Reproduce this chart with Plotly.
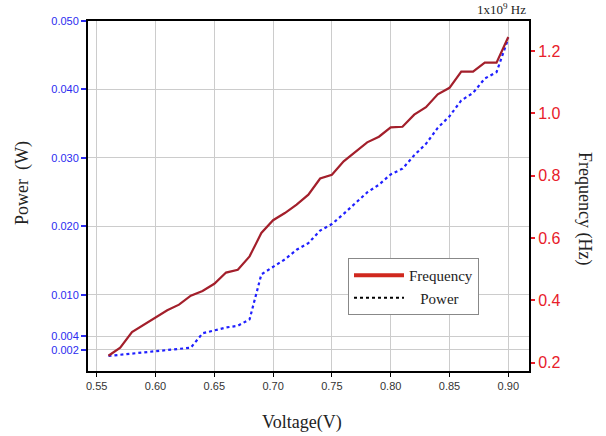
import plotly.graph_objects as go

voltage = [0.56, 0.57, 0.58, 0.59, 0.60, 0.61, 0.62, 0.63, 0.64, 0.65, 0.66, 0.67,
           0.68, 0.69, 0.70, 0.71, 0.72, 0.73, 0.74, 0.75, 0.76, 0.77, 0.78, 0.79,
           0.80, 0.81, 0.82, 0.83, 0.84, 0.85, 0.86, 0.87, 0.88, 0.89, 0.90]
frequency = [0.222, 0.248, 0.298, 0.321, 0.345, 0.368, 0.386, 0.415, 0.430, 0.453, 0.489, 0.498,
             0.541, 0.616, 0.657, 0.680, 0.707, 0.739, 0.791, 0.803, 0.846, 0.878, 0.907, 0.925,
             0.955, 0.957, 0.996, 1.020, 1.061, 1.082, 1.134, 1.134, 1.163, 1.163, 1.245]
power = [0.0011, 0.00126, 0.0014, 0.0016, 0.0018, 0.00195, 0.00214, 0.0023, 0.0044, 0.00488, 0.00525, 0.00551,
         0.00644, 0.0130, 0.01414, 0.0152, 0.0166, 0.01757, 0.0194, 0.02035, 0.02185, 0.0234, 0.02497, 0.0261,
         0.0276, 0.02844, 0.0304, 0.03206, 0.0344, 0.0361, 0.0384, 0.0395, 0.0416, 0.04253, 0.04746]

power_ticks = [0.002, 0.004, 0.010, 0.020, 0.030, 0.040, 0.050]
power_tick_text = ["0.002", "0.004", "0.010", "0.020", "0.030", "0.040", "0.050"]
freq_ticks = [0.2, 0.4, 0.6, 0.8, 1.0, 1.2]
freq_tick_text = ["0.2", "0.4", "0.6", "0.8", "1.0", "1.2"]
volt_ticks = [0.55, 0.60, 0.65, 0.70, 0.75, 0.80, 0.85, 0.90]
volt_tick_text = ["0.55", "0.60", "0.65", "0.70", "0.75", "0.80", "0.85", "0.90"]

SERIF = "Liberation Serif"
SANS = "Liberation Sans"
BLUE = "#2b2bf0"
RED = "#e8202a"

W, H = 606, 436
L, R, T, B = 88, 77, 21, 65
pw, ph = W - L - R, H - T - B


def px(x, y):
    return (x - L) / pw, 1 - (y - T) / ph


fig = go.Figure()
fig.add_trace(go.Scatter(x=voltage, y=power, mode="lines", yaxis="y",
                         line=dict(color="#2020ff", width=2.2, dash="dot"), showlegend=False))
fig.add_trace(go.Scatter(x=voltage, y=frequency, mode="lines", yaxis="y2",
                         line=dict(color="#a31f2b", width=2.2), showlegend=False))
# legend entries
fig.add_trace(go.Scatter(x=[None], y=[None], mode="lines", name="Frequency", yaxis="y2",
                         line=dict(color="#d0281e", width=4)))
fig.add_trace(go.Scatter(x=[None], y=[None], mode="lines", name="&nbsp;&nbsp;&nbsp;Power", yaxis="y2",
                         line=dict(color="black", width=2, dash="dot")))

annotations = []
for text, x, y, ang, size, xanchor in [
    ("Voltage(V)", 302, 422, 0, 18, "center"),
    ("Power  (W)", 22, 183, -90, 18, "center"),
    ("Frequency (Hz)", 585, 208, 90, 18, "center"),
    ("1x10<sup>9</sup> Hz", 528, 9, 0, 13, "right"),
]:
    ax, ay = px(x, y)
    annotations.append(dict(text=text, x=ax, y=ay, xref="paper", yref="paper",
                            showarrow=False, textangle=ang, xanchor=xanchor, yanchor="middle",
                            font=dict(family=SERIF, size=size, color="#222222")))

lx, ly = px(348, 258)

fig.update_layout(
    width=W, height=H,
    margin=dict(l=L, r=R, t=T, b=B),
    paper_bgcolor="white", plot_bgcolor="white",
    showlegend=True,
    legend=dict(x=lx, y=ly, xanchor="left", yanchor="top",
                bordercolor="#888888", borderwidth=1, bgcolor="white",
                font=dict(family=SERIF, size=15, color="#222222"),
                tracegroupgap=4, itemwidth=50),
    xaxis=dict(range=[0.5426, 0.9176], tickvals=volt_ticks, ticktext=volt_tick_text,
               showgrid=True, gridcolor="#cccccc", gridwidth=1,
               showline=True, linecolor="black", linewidth=2, mirror=True,
               ticks="outside", ticklen=4, tickcolor="black", zeroline=False,
               tickfont=dict(family=SANS, size=11, color="#333333")),
    yaxis=dict(range=[-0.0011, 0.0500], tickvals=power_ticks, ticktext=power_tick_text,
               showgrid=True, gridcolor="#cccccc", gridwidth=1,
               showline=True, linecolor="black", linewidth=2,
               ticks="outside", ticklen=5, tickcolor=BLUE, tickwidth=2, zeroline=False,
               tickfont=dict(family=SANS, size=11, color=BLUE)),
    yaxis2=dict(range=[0.173, 1.2965], tickvals=freq_ticks, ticktext=freq_tick_text,
                overlaying="y", side="right", showgrid=False,
                showline=True, linecolor="black", linewidth=2,
                ticks="outside", ticklen=4, tickcolor=RED, tickwidth=2, zeroline=False,
                tickfont=dict(family=SANS, size=16, color=RED)),
    annotations=annotations,
)

fig.write_html("out.html", config={"displayModeBar": False},
               post_script="document.body.style.margin='0';document.body.style.overflow='hidden';")
